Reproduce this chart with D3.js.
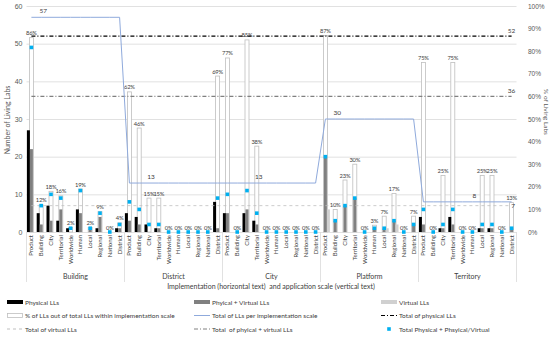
<!DOCTYPE html>
<html>
<head>
<meta charset="utf-8">
<script src="https://cdn.jsdelivr.net/npm/d3@7"></script>
<style>
  body { margin: 0; background: #fff; }
  svg { font-family: Lato, "Liberation Sans", sans-serif; }
</style>
</head>
<body>
<svg id="chart" width="550" height="337"></svg>
<script>
// implementation scales (horizontal text) and application scales (vertical text)
const groups = ["Building", "District", "City", "Platform", "Territory"];
const appScales = ["Product", "Building", "City", "Territorial", "Worldwide", "Human", "Local", "Regional", "National", "District"];
const groupTotals = [57, 13, 13, 30, 8];

// 10 values per implementation scale, in appScales order
const physical = [
  27, 5, 7, 3, 1, 6, 0, 1, 0, 1,
  5, 4, 2, 1, 0, 0, 0, 0, 0, 8,
  5, 0, 5, 3, 0, 0, 0, 0, 0, 0,
  0, 0, 0, 0, 0, 0, 0, 0, 0, 0,
  4, 0, 1, 4, 0, 0, 1, 1, 0, 0
];
const physVirtual = [
  22, 2, 3, 6, 0, 5, 1, 4, 0, 1,
  3, 2, 0, 1, 0, 0, 0, 0, 0, 1,
  5, 0, 6, 2, 0, 0, 0, 0, 0, 0,
  20, 3, 7, 9, 0, 1, 1, 3, 0, 2,
  2, 0, 1, 2, 0, 0, 1, 1, 0, 1
];
const virtualOnly = [
  0, 0, 0, 0, 0, 0, 0, 0, 0, 0,
  0, 0, 0, 0, 0, 0, 0, 0, 0, 0,
  0, 0, 0, 0, 0, 0, 0, 0, 0, 0,
  6, 0, 0, 0, 0, 0, 1, 2, 0, 0,
  0, 0, 0, 0, 0, 0, 0, 0, 0, 0
];
const totalMarkers = [
  49, 7, 10, 9, 1, 11, 1, 5, 0, 2,
  8, 6, 2, 2, 0, 0, 0, 0, 0, 9,
  10, 0, 11, 5, 0, 0, 0, 0, 0, 0,
  20, 3, 7, 9, 0, 1, 1, 3, 0, 2,
  6, 0, 2, 6, 0, 0, 2, 2, 0, 1
];
const pctValues = [
  86, 12, 18, 16, 2, 19, 2, 9, 0, 4,
  62, 46, 15, 15, 0, 0, 0, 0, 0, 69,
  77, 0, 85, 38, 0, 0, 0, 0, 0, 0,
  87, 10, 23, 30, 0, 3, 7, 17, 0, 7,
  75, 0, 25, 75, 0, 0, 25, 25, 0, 13
];
const totalPhysical = 52;
const totalPhysVirtual = 36;
const totalVirtual = 7;
const groupLabelAt = [1, 12, 23, 31, 45];

const plotLeft = 26.5, plotRight = 516.5, plotTop = 6, plotBottom = 232;
const svg = d3.select("#chart");
const idx = d3.range(groups.length * appScales.length);

const x = d3.scaleBand().domain(idx).range([plotLeft, plotRight]);
const y = d3.scaleLinear().domain([0, 60]).range([plotBottom, plotTop]);
const yPct = d3.scaleLinear().domain([0, 100]).range([plotBottom, plotTop]);
const cx = i => x(i) + x.bandwidth() / 2;

// grid + left axis
const gLeft = svg.append("g")
  .attr("transform", `translate(${plotLeft},0)`)
  .call(d3.axisLeft(y).tickValues(d3.range(0, 61, 10)).tickSize(-(plotRight - plotLeft)).tickPadding(4));
gLeft.select(".domain").remove();
gLeft.selectAll("line").attr("stroke", "#d9d9d9").attr("stroke-width", 0.8);
gLeft.selectAll("text").attr("fill", "#595959").style("font-size", "7px");

// right axis
const gRight = svg.append("g")
  .attr("transform", `translate(${plotRight},0)`)
  .call(d3.axisRight(yPct).tickValues(d3.range(0, 101, 10)).tickSize(0).tickPadding(11.5).tickFormat(d => d + "%"));
gRight.select(".domain").remove();
gRight.selectAll("text").attr("fill", "#595959").style("font-size", "6.5px");

// axis titles
svg.append("text")
  .attr("transform", "translate(10,120) rotate(-90)")
  .attr("text-anchor", "middle").attr("fill", "#595959").style("font-size", "7px")
  .text("Number of Living Labs");
svg.append("text")
  .attr("transform", "translate(544,112) rotate(90)")
  .attr("text-anchor", "middle").attr("fill", "#595959").style("font-size", "6.5px")
  .text("% of Living Labs");

// % bars (secondary axis)
svg.append("g").selectAll("rect")
  .data(idx.filter(i => pctValues[i] > 0))
  .join("rect")
  .attr("x", i => cx(i) - 2)
  .attr("width", 4)
  .attr("y", i => yPct(pctValues[i]))
  .attr("height", i => plotBottom - yPct(pctValues[i]))
  .attr("fill", "#fff")
  .attr("stroke", "#bfbfbf")
  .attr("stroke-width", 0.8);

// count bars
const barW = 3;
const barSeries = [
  { values: physical, color: "#000000", offset: -4.5 },
  { values: physVirtual, color: "#808080", offset: -1.5 },
  { values: virtualOnly, color: "#d0d0d0", offset: 1.5 }
];
barSeries.forEach(s => {
  svg.append("g").selectAll("rect")
    .data(idx.filter(i => s.values[i] > 0))
    .join("rect")
    .attr("x", i => cx(i) + s.offset)
    .attr("width", barW)
    .attr("y", i => y(s.values[i]))
    .attr("height", i => plotBottom - y(s.values[i]))
    .attr("fill", s.color);
});

// % labels
svg.append("g").selectAll("text")
  .data(idx)
  .join("text")
  .attr("x", i => cx(i))
  .attr("y", i => yPct(pctValues[i]) - 2.5)
  .attr("text-anchor", "middle")
  .attr("fill", "#404040")
  .style("font-size", "5.8px")
  .style("letter-spacing", "-0.2px")
  .text(i => pctValues[i] + "%");

// reference lines
const refLines = [
  { value: totalPhysical, color: "#000000", dash: "4,2,1,2", w: 1.1, dy: -3 },
  { value: totalPhysVirtual, color: "#808080", dash: "4,2,1,2", w: 1.1, dy: -3 },
  { value: totalVirtual, color: "#bfbfbf", dash: "3,3", w: 0.8, dy: 2 }
];
refLines.forEach(r => {
  svg.append("line")
    .attr("x1", cx(0)).attr("x2", cx(idx.length - 1))
    .attr("y1", y(r.value)).attr("y2", y(r.value))
    .attr("stroke", r.color).attr("stroke-width", r.w)
    .attr("stroke-dasharray", r.dash);
  svg.append("text")
    .attr("x", cx(idx.length - 1) + (r.dy > 0 ? 1.5 : 0))
    .attr("y", y(r.value) + r.dy)
    .attr("text-anchor", "middle").attr("fill", "#404040")
    .style("font-size", "6.5px")
    .text(r.value);
});

// total per implementation scale line
const line = d3.line()
  .x(i => cx(i))
  .y(i => y(groupTotals[Math.floor(i / appScales.length)]));
svg.append("path")
  .datum(idx)
  .attr("d", line)
  .attr("fill", "none")
  .attr("stroke", "#8faadc")
  .attr("stroke-width", 1);
svg.append("g").selectAll("text")
  .data(groupLabelAt)
  .join("text")
  .attr("x", i => cx(i) + 2)
  .attr("y", i => y(groupTotals[Math.floor(i / appScales.length)]) - 4)
  .attr("text-anchor", "middle").attr("fill", "#404040")
  .style("font-size", "6.5px")
  .text(i => groupTotals[Math.floor(i / appScales.length)]);

// total physical + physical/virtual markers
svg.append("g").selectAll("rect")
  .data(idx)
  .join("rect")
  .attr("x", i => cx(i) - 1.8)
  .attr("y", i => y(totalMarkers[i]) - 1.8)
  .attr("width", 3.6).attr("height", 3.6)
  .attr("fill", "#00b0f0");

// category labels
svg.append("g").selectAll("text")
  .data(idx)
  .join("text")
  .attr("transform", i => `translate(${cx(i) + 2},235) rotate(-90)`)
  .attr("text-anchor", "end")
  .attr("fill", "#404040")
  .style("font-size", "6px")
  .text(i => appScales[i % appScales.length]);

// group separators and labels
const groupW = x.bandwidth() * appScales.length;
svg.append("g").selectAll("line")
  .data(d3.range(groups.length + 1))
  .join("line")
  .attr("x1", k => plotLeft + k * groupW).attr("x2", k => plotLeft + k * groupW)
  .attr("y1", plotBottom).attr("y2", 282)
  .attr("stroke", "#d9d9d9").attr("stroke-width", 0.8);
svg.append("g").selectAll("text")
  .data(groups)
  .join("text")
  .attr("x", (d, k) => plotLeft + (k + 0.5) * groupW)
  .attr("y", 279)
  .attr("text-anchor", "middle").attr("fill", "#404040")
  .style("font-size", "7px")
  .text(d => d);

svg.append("text")
  .attr("x", 271).attr("y", 288.5)
  .attr("text-anchor", "middle").attr("fill", "#404040")
  .style("font-size", "7px").style("white-space", "pre")
  .text("Implementation (horizontal text)  and application scale (vertical text)");

// legend
const legendItems = [
  { label: "Physical LLs", type: "bar", color: "#000000" },
  { label: "Phyical + Virtual LLs", type: "bar", color: "#808080" },
  { label: "Virtual LLs", type: "bar", color: "#d0d0d0" },
  { label: "% of LLs out of total LLs within implementation scale", type: "box" },
  { label: "Total of LLs per implementation scale", type: "line", color: "#8faadc" },
  { label: "Total of physical LLs", type: "dash", color: "#000000", dash: "4,2,1,2" },
  { label: "Total of virtual LLs", type: "dash", color: "#bfbfbf", dash: "3,3" },
  { label: "Total  of phyical + virtual LLs", type: "dash", color: "#808080", dash: "4,2,1,2" },
  { label: "Total Physical + Phsyical/Virtual", type: "marker", color: "#00b0f0" }
];
const legendCols = [7, 194, 381];
const legendRows = [302, 315.5, 329];
const legend = svg.append("g").selectAll("g")
  .data(legendItems)
  .join("g")
  .attr("transform", (d, k) => `translate(${legendCols[k % 3]},${legendRows[Math.floor(k / 3)]})`);
legend.each(function (d) {
  const g = d3.select(this);
  if (d.type === "bar") {
    g.append("rect").attr("x", 0).attr("y", -2).attr("width", 16).attr("height", 4).attr("fill", d.color);
  } else if (d.type === "box") {
    g.append("rect").attr("x", 0.5).attr("y", -2).attr("width", 15).attr("height", 4)
      .attr("fill", "#fff").attr("stroke", "#bfbfbf").attr("stroke-width", 0.8);
  } else if (d.type === "line") {
    g.append("line").attr("x1", 0).attr("x2", 16).attr("y1", 0).attr("y2", 0)
      .attr("stroke", d.color).attr("stroke-width", 1);
  } else if (d.type === "dash") {
    g.append("line").attr("x1", 0).attr("x2", 16).attr("y1", 0).attr("y2", 0)
      .attr("stroke", d.color).attr("stroke-width", 1).attr("stroke-dasharray", d.dash);
  } else {
    g.append("rect").attr("x", 6.2).attr("y", -1.8).attr("width", 3.6).attr("height", 3.6).attr("fill", d.color);
  }
  g.append("text")
    .attr("x", 18).attr("y", 2.5)
    .attr("fill", "#404040")
    .style("font-size", "6.5px").style("white-space", "pre")
    .text(d.label);
});
</script>
</body>
</html>
